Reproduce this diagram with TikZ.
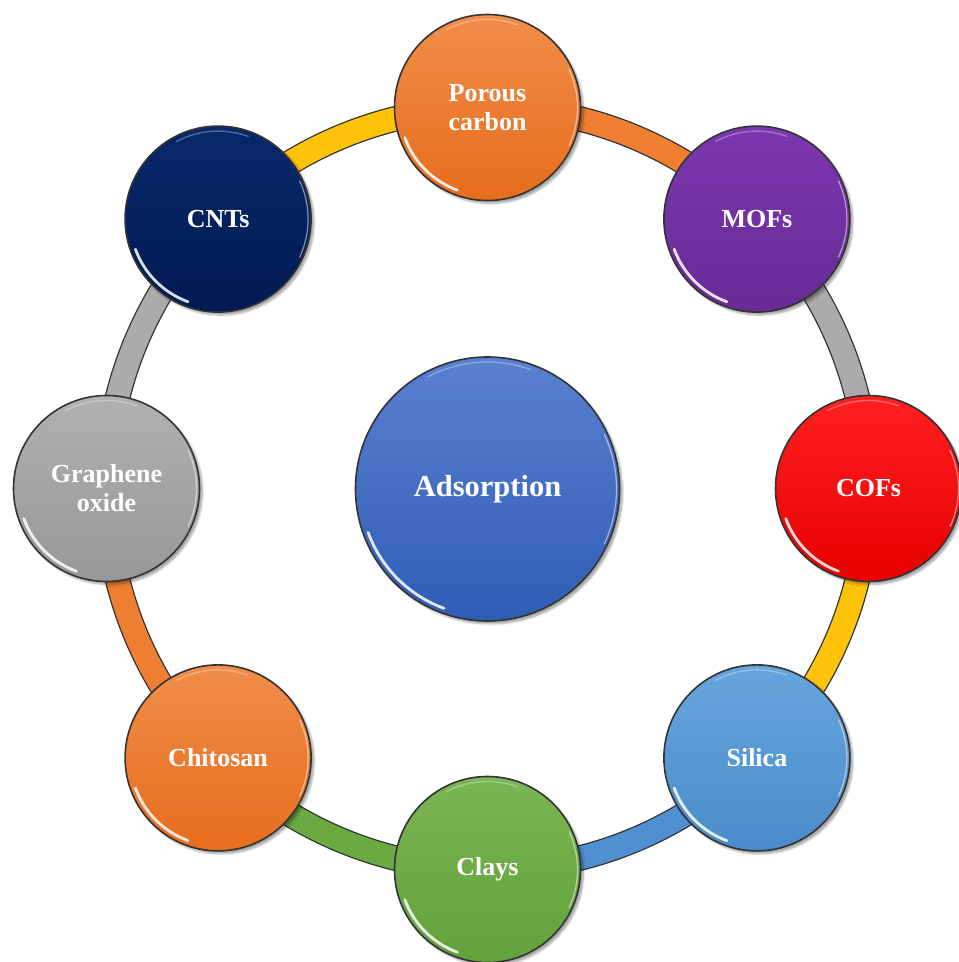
\documentclass[tikz,border=0pt]{standalone}
\usepackage{fontspec}
\setmainfont{Liberation Serif}
\usetikzlibrary{shadows.blur}
\pgfdeclarelayer{background}
\pgfsetlayers{background,main}
\definecolor{orT}{HTML}{F18D4A}\definecolor{orB}{HTML}{E66D1C}
\definecolor{puT}{HTML}{7B37AE}\definecolor{puB}{HTML}{682B95}
\definecolor{reT}{HTML}{FF2020}\definecolor{reB}{HTML}{E60000}
\definecolor{lbT}{HTML}{67A5DC}\definecolor{lbB}{HTML}{4A8CCA}
\definecolor{grT}{HTML}{7AB653}\definecolor{grB}{HTML}{62A13B}
\definecolor{gyT}{HTML}{B0B0B0}\definecolor{gyB}{HTML}{989898}
\definecolor{nvT}{HTML}{08296A}\definecolor{nvB}{HTML}{001A52}
\definecolor{blT}{HTML}{5A80D0}\definecolor{blB}{HTML}{2F5DB5}
\definecolor{bandOr}{HTML}{EE7E32}
\definecolor{bandGy}{HTML}{ABABAB}
\definecolor{bandGd}{HTML}{FFC30A}
\definecolor{bandBl}{HTML}{4F90D0}
\definecolor{bandGr}{HTML}{6AAA40}
\begin{document}
\begin{tikzpicture}[x=1pt,y=1pt,
  bubble/.style 2 args={circle, minimum size=186pt, inner sep=0pt,
    draw=black!80, line width=1.6pt, top color=#1, bottom color=#2,
    text=white, align=center,
    font=\fontsize{26}{29}\selectfont\bfseries,
    blur shadow={shadow xshift=3pt, shadow yshift=-3pt, shadow blur steps=6, shadow opacity=35}},
  bigbubble/.style={bubble={blT}{blB}, minimum size=264pt,
    font=\fontsize{30.5}{33}\selectfont\bfseries},
  band/.style={draw=black!80, line width=1.3pt, double=#1, double distance=23pt,
    bend left=22.5, looseness=0.885},
  shine/.style={white, line cap=round}
]
\useasboundingbox (0,0) rectangle (959,962);
\clip (0,0) rectangle (959,962);
\coordinate (C) at (487.5,473.5);

\node[bigbubble] (ads) at (487.5,473) {Adsorption};
\node[bubble={orT}{orB}] (pc)  at ([shift={(90:381)}]C)   {Porous\\carbon};
\node[bubble={puT}{puB}] (mof) at ([shift={(45:381)}]C)   {MOFs};
\node[bubble={reT}{reB}] (cof) at ([shift={(0:381)}]C)    {COFs};
\node[bubble={lbT}{lbB}] (sil) at ([shift={(-45:381)}]C)  {Silica};
\node[bubble={grT}{grB}] (cla) at ([shift={(-90:381)}]C)  {Clays};
\node[bubble={orT}{orB}] (chi) at ([shift={(-135:381)}]C) {Chitosan};
\node[bubble={gyT}{gyB}] (gra) at ([shift={(180:381)}]C)  {Graphene\\oxide};
\node[bubble={nvT}{nvB}] (cnt) at ([shift={(135:381)}]C)  {CNTs};

\begin{pgfonlayer}{background}
\draw[band=bandOr] (pc.center) to (mof.center);
\draw[band=bandGy] (mof.center) to (cof.center);
\draw[band=bandGd] (cof.center) to (sil.center);
\draw[band=bandBl] (sil.center) to (cla.center);
\draw[band=bandGr] (cla.center) to (chi.center);
\draw[band=bandOr] (chi.center) to (gra.center);
\draw[band=bandGy] (gra.center) to (cnt.center);
\draw[band=bandGd] (cnt.center) to (pc.center);
\end{pgfonlayer}

\foreach \n/\r in {pc/93,mof/93,cof/93,sil/93,cla/93,chi/93,gra/93,cnt/93,ads/132} {
  \draw[shine, line width=2.8pt, opacity=.85]
    ([shift={(200:{\r-5})}]\n.center) arc[start angle=200, end angle=250, radius={\r-5}];
  \draw[shine, line width=1.4pt, opacity=.3]
    ([shift={(70:{\r-5})}]\n.center) arc[start angle=70, end angle=118, radius={\r-5}];
  \draw[shine, line width=1.2pt, opacity=.5]
    ([shift={(-25:{\r-3})}]\n.center) arc[start angle=-25, end angle=25, radius={\r-3}];
}
\end{tikzpicture}
\end{document}
